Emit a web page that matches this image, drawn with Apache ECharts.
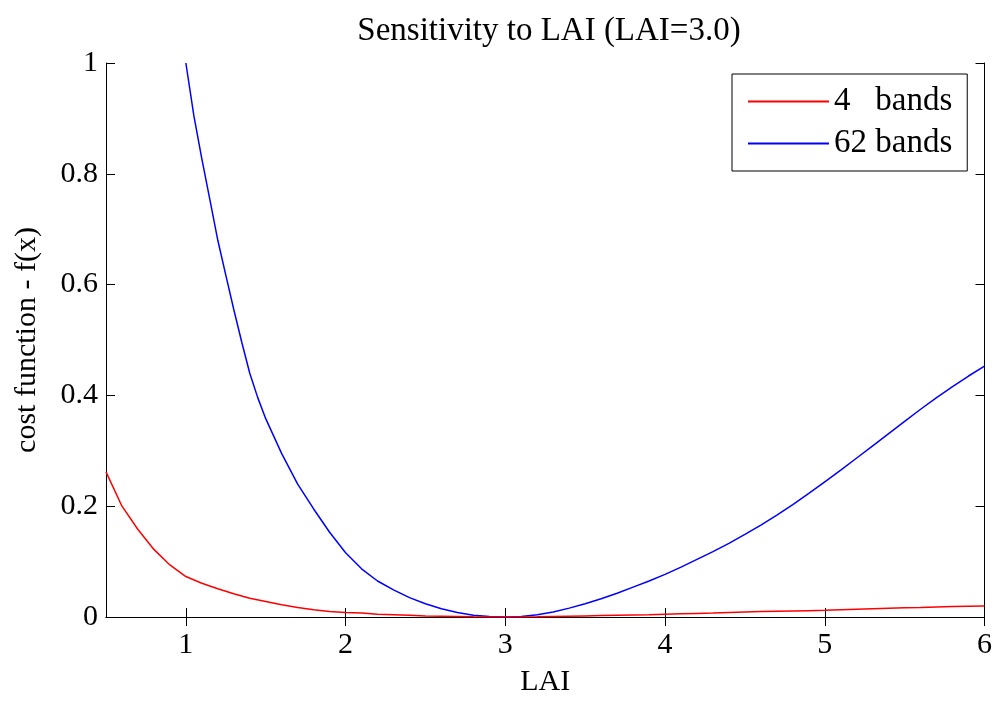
<!DOCTYPE html>
<html>
<head>
<meta charset="utf-8">
<script src="https://cdn.jsdelivr.net/npm/echarts@6/dist/echarts.min.js"></script>
<style>html,body{margin:0;padding:0;background:#fff}#c{width:995px;height:702px}</style>
</head>
<body>
<div id="c"></div>
<script>
// LAI values (x) and cost function values
const laiRed = [0.5,0.6,0.7,0.8,0.9,1.0,1.1,1.2,1.3,1.4,1.5,1.6,1.7,1.8,1.9,2.0,2.1,2.2,2.3,2.4,2.5,2.6,2.7,2.8,2.9,3.0,3.1,3.2,3.3,3.4,3.5,3.6,3.7,3.8,3.9,4.0,4.1,4.2,4.3,4.4,4.5,4.6,4.7,4.8,4.9,5.0,5.1,5.2,5.3,5.4,5.5,5.6,5.7,5.8,5.9,6.0];
const red4 = [0.262,0.200,0.158,0.122,0.094,0.073,0.061,0.051,0.042,0.034,0.028,0.022,0.017,0.013,0.010,0.008,0.007,0.005,0.004,0.003,0.002,0.0015,0.001,0.0005,0.0002,0.0,0.0002,0.0005,0.001,0.0015,0.002,0.0025,0.003,0.0035,0.004,0.005,0.006,0.0065,0.007,0.008,0.009,0.010,0.0105,0.011,0.0115,0.012,0.013,0.014,0.015,0.016,0.0165,0.017,0.018,0.019,0.0195,0.020];
const laiBlue = [1.0,1.05,1.1,1.15,1.2,1.25,1.3,1.35,1.4,1.45,1.5,1.6,1.7,1.8,1.9,2.0,2.1,2.2,2.3,2.4,2.5,2.6,2.7,2.8,2.9,3.0,3.1,3.2,3.3,3.4,3.5,3.6,3.7,3.8,3.9,4.0,4.1,4.2,4.3,4.4,4.5,4.6,4.7,4.8,4.9,5.0,5.1,5.2,5.3,5.4,5.5,5.6,5.7,5.8,5.9,6.0];
const blue62 = [1.0,0.905,0.827,0.754,0.68,0.617,0.555,0.496,0.44,0.396,0.358,0.295,0.24,0.195,0.153,0.116,0.087,0.065,0.049,0.035,0.024,0.015,0.008,0.003,0.001,0.0,0.001,0.004,0.009,0.016,0.024,0.033,0.043,0.054,0.065,0.077,0.090,0.104,0.118,0.133,0.149,0.166,0.184,0.203,0.223,0.244,0.265,0.287,0.309,0.331,0.353,0.375,0.396,0.416,0.435,0.453];
const xTicks = [1,2,3,4,5,6];
const yTicks = [0,0.2,0.4,0.6,0.8,1];
const seriesNames = ['4   bands','62 bands'];

const FONT = '"Liberation Serif","Times New Roman",serif';
const chart = echarts.init(document.getElementById('c'), null, {renderer:'canvas'});
const axisLineStyle = {show:true, lineStyle:{color:'#000', width:1}};
const tickStyle = {show:true, inside:true, length:9, lineStyle:{color:'#000', width:1}};
chart.setOption({
  animation:false,
  backgroundColor:'#fff',
  title:{text:'Sensitivity to LAI (LAI=3.0)', left:544, textAlign:'center', top:10,
    textStyle:{fontFamily:FONT, fontSize:33, fontWeight:'normal', color:'#000'}},
  legend:{
    orient:'vertical', left:732, top:74,
    backgroundColor:'#fff', borderColor:'#000', borderWidth:1,
    padding:[11,15,11,16], itemGap:9, itemWidth:81, itemHeight:2, icon:'rect',
    textStyle:{fontFamily:FONT, fontSize:33, lineHeight:33, color:'#000'},
    data:seriesNames
  },
  grid:{left:106, right:9, top:63, bottom:78, containLabel:false},
  xAxis:[{
    type:'value', min:0.5, max:6, position:'bottom',
    name:'LAI', nameLocation:'middle', nameGap:50,
    nameTextStyle:{fontFamily:FONT, fontSize:30, color:'#000'},
    axisLine:axisLineStyle,
    axisTick:Object.assign({customValues:xTicks}, tickStyle),
    axisLabel:{customValues:xTicks, margin:13, fontFamily:FONT, fontSize:30, color:'#000'},
    splitLine:{show:false}
  },{
    type:'value', min:0.5, max:6, position:'top',
    axisLine:axisLineStyle,
    axisTick:Object.assign({customValues:xTicks}, tickStyle),
    axisLabel:{show:false}, splitLine:{show:false}
  }],
  yAxis:[{
    type:'value', min:0, max:1, interval:0.2, position:'left',
    name:'cost function - f(x)', nameLocation:'middle', nameGap:64,
    nameTextStyle:{fontFamily:FONT, fontSize:30, color:'#000'},
    axisLine:axisLineStyle,
    axisTick:tickStyle,
    axisLabel:{margin:8, fontFamily:FONT, fontSize:30, color:'#000',
      formatter:function(v){const r=Math.round(v*10)/10; return yTicks.indexOf(r)>=0 ? String(r) : '';}},
    splitLine:{show:false}
  },{
    type:'value', min:0, max:1, interval:0.2, position:'right',
    axisLine:axisLineStyle, axisTick:tickStyle,
    axisLabel:{show:false}, splitLine:{show:false}
  }],
  series:[{
    name:seriesNames[0], type:'line', symbol:'none', showSymbol:false,
    lineStyle:{color:'#ff0000', width:1.5}, itemStyle:{color:'#ff0000'},
    data:laiRed.map((x,i)=>[x, red4[i]]), clip:true, z:3
  },{
    name:seriesNames[1], type:'line', symbol:'none', showSymbol:false,
    lineStyle:{color:'#0000ff', width:1.5}, itemStyle:{color:'#0000ff'},
    data:laiBlue.map((x,i)=>[x, blue62[i]]), clip:true, z:2
  }]
});
</script>
</body>
</html>
